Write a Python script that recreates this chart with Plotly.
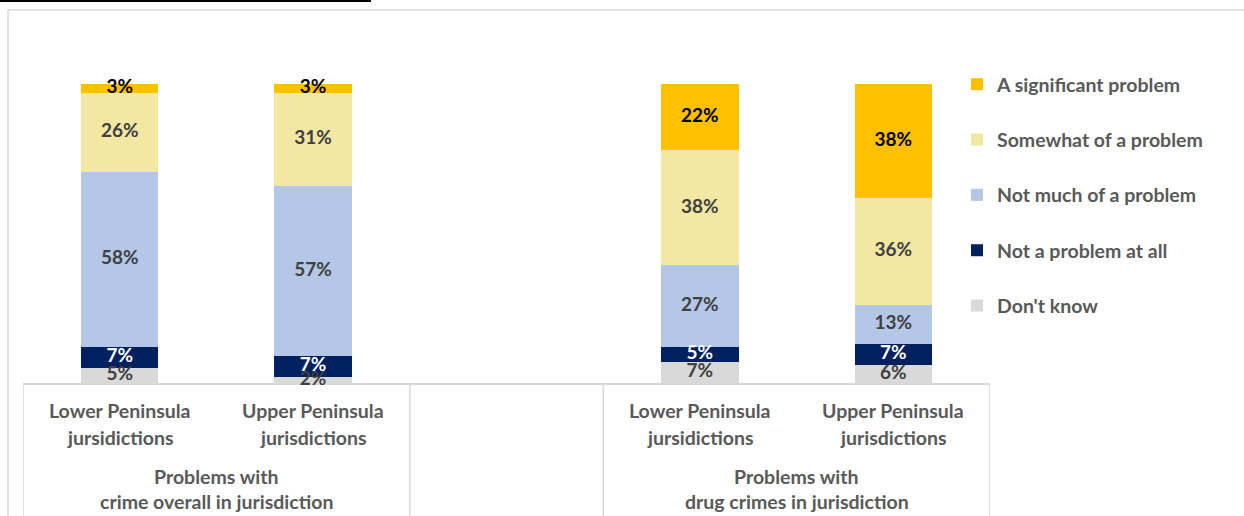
import plotly.graph_objects as go

# ---- data ----
series_names = ["Don't know", "Not a problem at all", "Not much of a problem",
                "Somewhat of a problem", "A significant problem"]
dont_know = [5, 2, 7, 6]
not_at_all = [7, 7, 5, 7]
not_much = [58, 57, 27, 13]
somewhat = [26, 31, 38, 36]
significant = [3, 3, 22, 38]

bar_line1 = ["Lower Peninsula", "Upper Peninsula", "Lower Peninsula", "Upper Peninsula"]
bar_line2 = ["jursidictions", "jurisdictions", "jursidictions", "jurisdictions"]
group_line1 = ["Problems with", "Problems with"]
group_line2 = ["crime overall in jurisdiction", "drug crimes in jurisdiction"]

# ---- layout / style ----
slots = [0, 1, 3, 4]           # middle slot (2) left empty between the two groups
group_centers = [0.5, 3.5]
colors = ["#D9D9D9", "#002060", "#B4C7E7", "#F2E7A3", "#FFC000"]
text_colors = ["#404040", "#FFFFFF", "#404040", "#404040", "#000000"]
FONT = "Lato"
GREY = "#595959"
LINE = "#D9D9D9"
LBL = 19.5

W, H = 1244, 516
ml, mr, mt, mb = 23, 254, 84, 133
pw, ph = W - ml - mr, H - mt - mb

def px_x(p):  # pixel -> paper x
    return (p - ml) / pw

def px_y(p):  # pixel -> paper y
    return (H - mb - p) / ph

all_vals = [dont_know, not_at_all, not_much, somewhat, significant]
n = len(series_names)
totals = [sum(col) for col in zip(*all_vals)]

fig = go.Figure()
for i, (name, vals, c) in enumerate(zip(series_names, all_vals, colors)):
    fig.add_trace(go.Bar(
        x=slots, y=vals, name=name, width=0.4,
        marker=dict(color=c, line=dict(width=0)),
        legendgroup=name, legendrank=n - i, hoverinfo="skip",
    ))

# data labels at the middle of each (100%-normalised) segment
cum = [0] * len(slots)
for i, (vals, tc) in enumerate(zip(all_vals, text_colors)):
    mids = [(cb + v / 2) / t * 100 for cb, v, t in zip(cum, vals, totals)]
    cum = [cb + v for cb, v in zip(cum, vals)]
    fig.add_trace(go.Scatter(
        x=slots, y=mids, mode="text", text=[f"{v}%" for v in vals],
        textposition="middle center", cliponaxis=False, showlegend=False,
        textfont=dict(family=FONT, size=19, color=tc, weight="bold"),
        hoverinfo="skip",
    ))

annotations = []
for s, l1, l2 in zip(slots, bar_line1, bar_line2):
    annotations.append(dict(x=s, y=0, xref="x", yref="paper", text=f"<b>{l1}</b>",
                            showarrow=False, yanchor="middle", yshift=-27,
                            font=dict(family=FONT, size=LBL, color=GREY)))
    annotations.append(dict(x=s, y=0, xref="x", yref="paper", text=f"<b>{l2}</b>",
                            showarrow=False, yanchor="middle", yshift=-54,
                            font=dict(family=FONT, size=LBL, color=GREY)))
for gc, l1, l2 in zip(group_centers, group_line1, group_line2):
    annotations.append(dict(x=gc, y=0, xref="x", yref="paper", text=f"<b>{l1}</b>",
                            showarrow=False, yanchor="middle", yshift=-93,
                            font=dict(family=FONT, size=LBL, color=GREY)))
    annotations.append(dict(x=gc, y=0, xref="x", yref="paper", text=f"<b>{l2}</b>",
                            showarrow=False, yanchor="middle", yshift=-118,
                            font=dict(family=FONT, size=LBL, color=GREY)))

shapes = []
# category dividers below the axis
for xv in [-0.5, 1.5, 2.5, 4.5]:
    shapes.append(dict(type="line", xref="x", yref="paper", x0=xv, x1=xv,
                       y0=0, y1=px_y(H + 5), line=dict(color=LINE, width=1.5)))
# chart border (top + left)
shapes.append(dict(type="line", xref="paper", yref="paper", x0=px_x(8), x1=px_x(W + 5),
                   y0=px_y(10), y1=px_y(10), line=dict(color=LINE, width=1.5)))
shapes.append(dict(type="line", xref="paper", yref="paper", x0=px_x(8), x1=px_x(8),
                   y0=px_y(10), y1=px_y(H + 5), line=dict(color=LINE, width=1.5)))
# underline of cut-off heading above the chart
shapes.append(dict(type="line", xref="paper", yref="paper", x0=px_x(0), x1=px_x(371),
                   y0=px_y(1), y1=px_y(1), line=dict(color="#000000", width=2)))

fig.update_layout(
    width=W, height=H,
    margin=dict(l=ml, r=mr, t=mt, b=mb, autoexpand=False),
    barmode="stack", barnorm="percent",
    plot_bgcolor="white", paper_bgcolor="white",
    hovermode=False,
    xaxis=dict(range=[-0.5, 4.5], showticklabels=False, ticks="", showgrid=False,
               zeroline=False, showline=True, linecolor=LINE, linewidth=1.5,
               layer="below traces"),
    yaxis=dict(range=[0, 100], visible=False),
    legend=dict(x=px_x(957), xanchor="left", y=px_y(65),
                yanchor="top", traceorder="grouped", tracegroupgap=27,
                maxheight=420,
                font=dict(family=FONT, size=LBL, color=GREY, weight="bold"),
                bgcolor="rgba(0,0,0,0)"),
    annotations=annotations, shapes=shapes,
    showlegend=True,
)

fig.write_html("out.html", config={"displayModeBar": False, "staticPlot": True},
               post_script="document.body.style.margin='0';")
